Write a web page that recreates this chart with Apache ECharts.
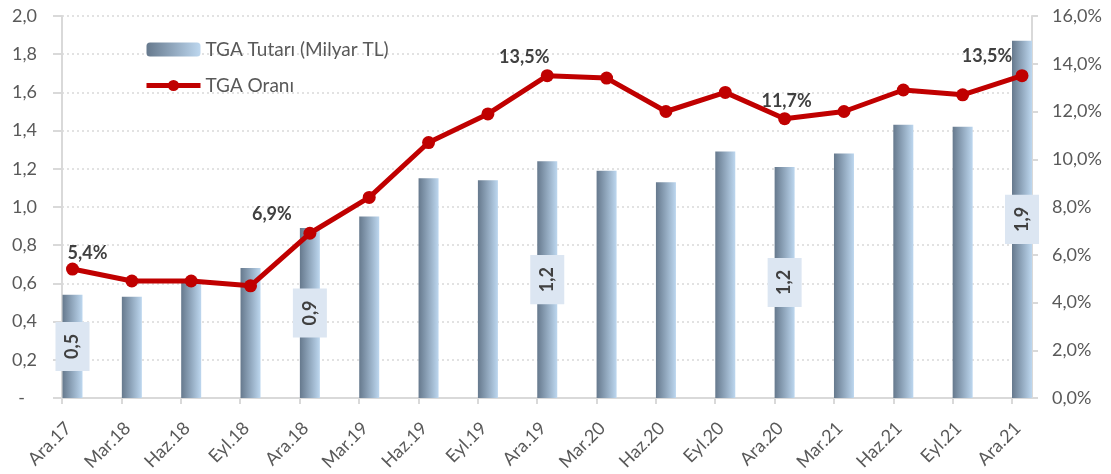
<!DOCTYPE html>
<html>
<head>
<meta charset="utf-8">
<script src="https://cdn.jsdelivr.net/npm/echarts@6/dist/echarts.min.js"></script>
<style>
html,body{margin:0;padding:0;background:#fff;}
#chart{width:1111px;height:474px;}
</style>
</head>
<body>
<div id="chart"></div>
<script>
// ---- data ----
const categories = ['Ara.17','Mar.18','Haz.18','Eyl.18','Ara.18','Mar.19','Haz.19','Eyl.19','Ara.19','Mar.20','Haz.20','Eyl.20','Ara.20','Mar.21','Haz.21','Eyl.21','Ara.21'];
const tgaAmount = [0.54,0.53,0.61,0.68,0.89,0.95,1.15,1.14,1.24,1.19,1.13,1.29,1.21,1.28,1.43,1.42,1.87];
const tgaRatio = [5.4,4.9,4.9,4.7,6.9,8.4,10.7,11.9,13.5,13.4,12.0,12.8,11.7,12.0,12.9,12.7,13.5];
const labeledIdx = [0,4,8,12,16];
const leftTicks = ['-','0,2','0,4','0,6','0,8','1,0','1,2','1,4','1,6','1,8','2,0'];
const rightTicks = ['0,0%','2,0%','4,0%','6,0%','8,0%','10,0%','12,0%','14,0%','16,0%'];
const seriesNames = ['TGA Tutarı (Milyar TL)','TGA Oranı'];

// ---- styles ----
const FONT = 'Lato';
const AXIS_TXT = '#595959';
const LINE_COL = '#d9d9d9';
const RED = '#c00000';
const lineLabelOffset = {0:[15,5],4:[-38,1],8:[-23,2],12:[2,3],16:[-35,1]};
const fmt1 = v => v.toFixed(1).replace('.', ',');

const barGradient = {type:'linear',x:0,y:0,x2:1,y2:0,colorStops:[
  {offset:0,color:'#66798d'},{offset:1,color:'#bdd7ef'}]};

const barData = tgaAmount.map((v,i) => {
  const d = {value:v};
  if (labeledIdx.includes(i)) d.label = {show:true};
  return d;
});
const lineData = tgaRatio.map((v,i) => {
  const d = {value:v};
  if (labeledIdx.includes(i)) d.label = {show:true, offset: lineLabelOffset[i]};
  return d;
});

const gTop = 16, gBottom = 76;
const gridBase = {top:gTop, bottom:gBottom, containLabel:false, outerBoundsMode:'none'};
const option = {
  animation:false,
  backgroundColor:'#fff',
  textStyle:{fontFamily:FONT},
  legend:{
    orient:'vertical', left:139, top:35, itemGap:17,
    itemWidth:54, itemHeight:14,
    textStyle:{fontFamily:FONT,fontSize:19,color:AXIS_TXT},
    data:[
      {name:seriesNames[0]},
      {name:seriesNames[1], lineStyle:{width:5,color:RED}, itemStyle:{color:RED}}
    ]
  },
  grid:[
    Object.assign({left:62, right:1111-1032}, gridBase),
    Object.assign({left:72.5, right:1111-1022}, gridBase),
    Object.assign({left:62, right:1111-1012}, gridBase)
  ],
  xAxis:[
    {gridIndex:0,type:'category',data:categories,boundaryGap:false,
      axisLine:{show:true,lineStyle:{color:LINE_COL,width:2}},
      axisTick:{show:false},axisLabel:{show:false},splitLine:{show:false}},
    {gridIndex:1,type:'category',data:categories,boundaryGap:false,
      axisLine:{show:false},axisTick:{show:false},splitLine:{show:false},
      axisLabel:{show:true,interval:0,rotate:45,margin:23,padding:[0,6,0,0],fontFamily:FONT,fontSize:18,color:AXIS_TXT}},
    {gridIndex:2,type:'category',data:categories,boundaryGap:false,
      axisLine:{show:false},axisLabel:{show:false},splitLine:{show:false},
      axisTick:{show:true,interval:0,length:6,lineStyle:{color:LINE_COL,width:2}}}
  ],
  yAxis:[
    {gridIndex:0,type:'value',position:'left',min:0,max:2,interval:0.2,
      axisLine:{show:true,lineStyle:{color:LINE_COL,width:2}},
      axisTick:{show:true,length:9,lineStyle:{color:LINE_COL,width:2}},
      splitLine:{show:true,lineStyle:{color:LINE_COL,type:[2,3],width:1.5}},
      axisLabel:{margin:25,fontFamily:FONT,fontSize:18,color:AXIS_TXT,
        formatter:v => { const i = Math.round(v/0.2); return i===0 ? '{d|'+leftTicks[i]+'}' : leftTicks[i]; },
        rich:{d:{fontFamily:FONT,fontSize:18,color:AXIS_TXT,padding:[0,12,0,0]}}}},
    {gridIndex:0,type:'value',position:'right',min:0,max:16,interval:2,
      axisLine:{show:true,lineStyle:{color:LINE_COL,width:2}},
      axisTick:{show:true,length:6,lineStyle:{color:LINE_COL,width:2}},
      splitLine:{show:false},
      axisLabel:{margin:20,fontFamily:FONT,fontSize:18,color:AXIS_TXT,
        formatter:v => rightTicks[Math.round(v/2)]}},
    {gridIndex:1,type:'value',min:0,max:2,show:false},
    {gridIndex:1,type:'value',min:0,max:16,show:false},
    {gridIndex:2,type:'value',min:0,max:2,show:false}
  ],
  series:[
    {name:seriesNames[0],type:'bar',xAxisIndex:1,yAxisIndex:2,barWidth:20,
      itemStyle:{color:barGradient},
      label:{show:false,position:'inside',rotate:90,fontFamily:FONT,fontSize:18,fontWeight:'bold',
        color:'#404040',backgroundColor:'#dce6f2',padding:[8,12,8,12],
        formatter:p => fmt1(p.value)},
      data:barData},
    {name:seriesNames[1],type:'line',xAxisIndex:1,yAxisIndex:3,
      symbol:'circle',symbolSize:13,
      lineStyle:{color:RED,width:5},
      itemStyle:{color:RED},
      label:{show:false,position:'top',distance:5,fontFamily:FONT,fontSize:18,fontWeight:'bold',color:'#404040',
        formatter:p => fmt1(p.value)+'%'},
      data:lineData}
  ]
};
const chart = echarts.init(document.getElementById('chart'), null, {renderer:'canvas'});
chart.setOption(option);
</script>
</body>
</html>
